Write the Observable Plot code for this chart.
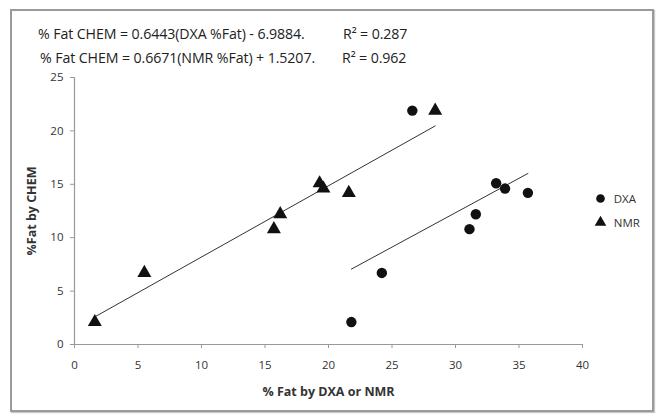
<!DOCTYPE html>
<html><head><meta charset="utf-8">
<script src="https://cdn.jsdelivr.net/npm/d3@7"></script>
<script src="https://cdn.jsdelivr.net/npm/@observablehq/plot@0.6"></script>
<style>
body{margin:0;background:#fff;}
#wrap{position:relative;width:663px;height:420px;overflow:hidden;font-family:"Open Sans",sans-serif;}
#frame{position:absolute;left:10px;top:9px;width:640px;height:399px;border:2px solid #9a9a9a;box-shadow:1px 1px 1px #c8c8c8;pointer-events:none;}
.eq{position:absolute;font-size:14.2px;color:#222;white-space:pre;line-height:16px;letter-spacing:-0.1px;}
#chart{position:absolute;left:0;top:0;}
#legend{position:absolute;left:593px;top:191px;}
#legend [class$="-swatch"]{margin-bottom:8px;font-size:11.5px;color:#333;}
svg [aria-label="x-axis label"] text, svg [aria-label="y-axis label"] text{font-weight:bold;font-size:12.5px;fill:#333;}
</style>
</head><body>
<div id="wrap">
  <div id="chart"></div>
  <div class="eq" style="left:38px;top:26px">% Fat CHEM = 0.6443(DXA %Fat) - 6.9884.</div>
  <div class="eq" style="left:343px;top:26px">R² = 0.287</div>
  <div class="eq" style="left:40px;top:50px">% Fat CHEM = 0.6671(NMR %Fat) + 1.5207.</div>
  <div class="eq" style="left:342px;top:50px">R² = 0.962</div>
  <div id="legend"></div>
  <div id="frame"></div>
</div>
<script>
const series = ["DXA", "NMR"];
const chem = [2.1, 6.7, 10.8, 12.2, 15.1, 14.6, 14.2, 21.9];
const dxa  = [21.8, 24.2, 31.1, 31.6, 33.2, 33.9, 35.7, 26.6];
const nmr  = [1.6, 5.5, 15.7, 16.2, 19.3, 19.6, 21.6, 28.4];
const slope = [0.6443, 0.6671];
const intercept = [-6.9884, 1.5207];
const xTicks = [0, 5, 10, 15, 20, 25, 30, 35, 40];
const yTicks = [0, 5, 10, 15, 20, 25];

const xsBySeries = [dxa, nmr];
const points = series.flatMap((s, k) => xsBySeries[k].map((x, i) => ({series: s, x, y: chem[i]})));
const fits = series.flatMap((s, k) => {
  const xs = xsBySeries[k];
  return [d3.min(xs), d3.max(xs)].map(x => ({series: s, x, y: slope[k] * x + intercept[k]}));
});

const font = '"Open Sans",sans-serif';
const chart = Plot.plot({
  width: 663, height: 420,
  marginLeft: 74, marginRight: 81, marginTop: 77, marginBottom: 76,
  x: {domain: [0, 40]},
  y: {domain: [0, 25]},
  symbol: {domain: series, range: ["circle", "triangle"]},
  style: {fontFamily: font, fontSize: "11.5px", color: "#333", background: "transparent"},
  marks: [
    Plot.axisX({ticks: xTicks, tickSize: 4, tickPadding: 12, stroke: "#999", fill: "#333",
      label: "% Fat by DXA or NMR", labelAnchor: "center", labelOffset: 51, labelArrow: false}),
    Plot.axisY({ticks: yTicks, tickSize: 4, tickPadding: 7, stroke: "#999", fill: "#333",
      label: "%Fat by CHEM", labelAnchor: "center", labelOffset: 47, labelArrow: false}),
    Plot.ruleY([0], {stroke: "#999", strokeWidth: 1.2}),
    Plot.ruleX([0], {stroke: "#999", strokeWidth: 1.2}),
    Plot.line(fits, {x: "x", y: "y", z: "series", stroke: "#333", strokeWidth: 1}),
    Plot.dot(points, {x: "x", y: "y", symbol: "series", fill: "#111", r: 5.2})
  ]
});
document.getElementById("chart").appendChild(chart);

const legend = Plot.legend({
  symbol: {domain: series, range: ["circle", "triangle"]},
  fill: "#111", stroke: "none", r: 4.6, columns: 1,
  style: {fontFamily: font, fontSize: "11.5px", color: "#333"}
});
document.getElementById("legend").appendChild(legend);
</script>
</body></html>
